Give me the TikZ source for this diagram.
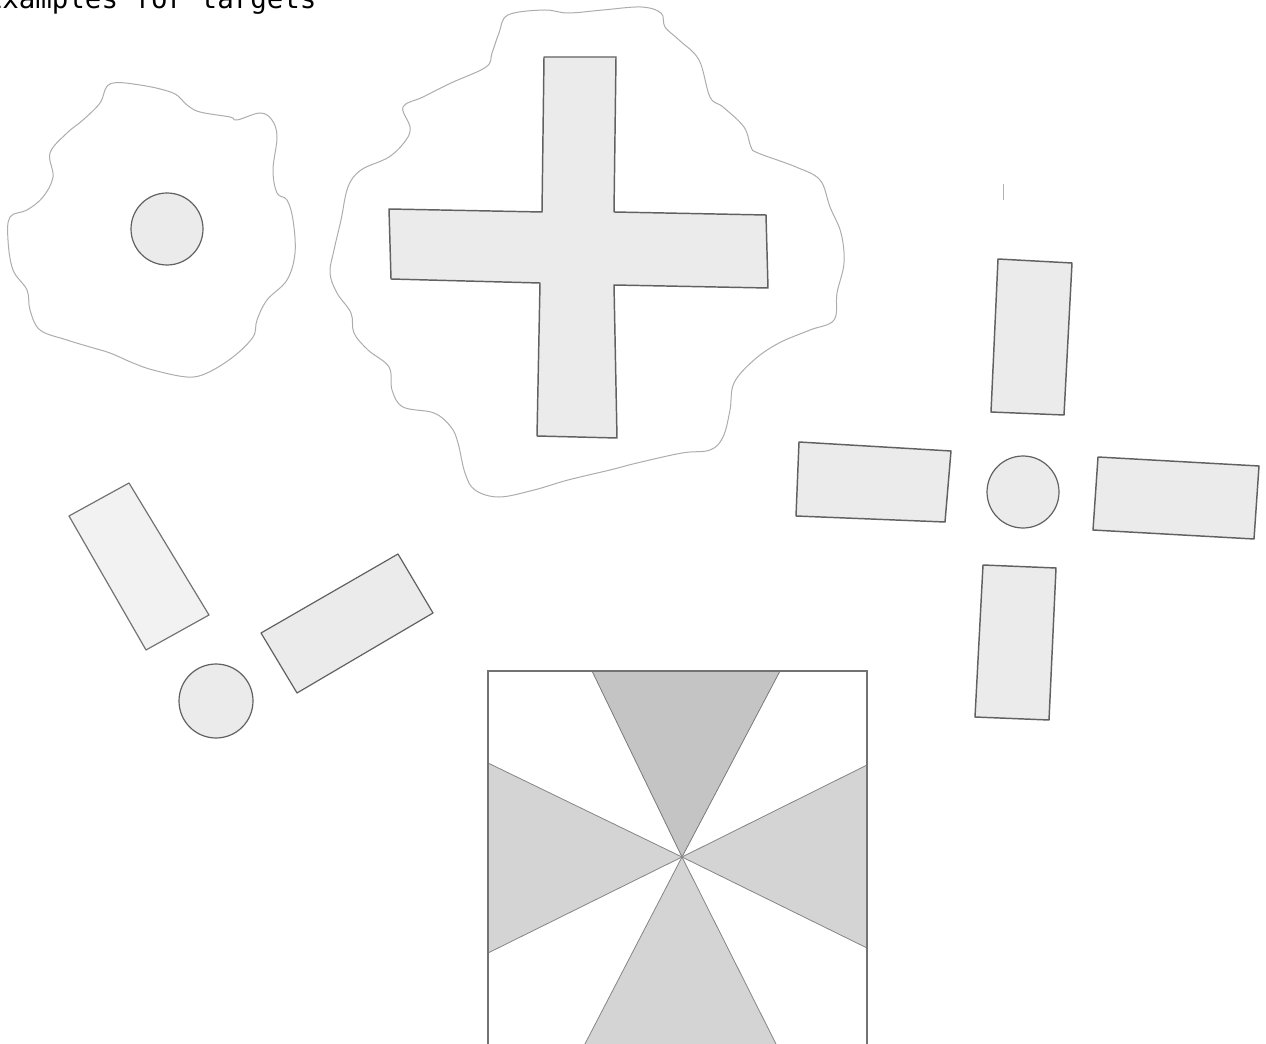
\documentclass[tikz,border=0pt]{standalone}
\usepackage{fontspec}
\usetikzlibrary{calc}
\newfontfamily\monofont{DejaVu Sans Mono}
\begin{document}
\begin{tikzpicture}[x=0.75pt,y=-0.75pt,
  outline/.style={draw=black!32, line width=0.75pt},
  solid shape/.style={draw=black!62, fill=black!8, line width=1.1pt, line join=round},
  light shape/.style={draw=black!55, fill=black!5, line width=0.9pt, line join=round},
  wedge/.style={fill=black!17, draw=black!48, line width=0.6pt, line join=round},
  darkwedge/.style={fill=black!23, draw=black!52, line width=0.6pt, line join=round},
  frame/.style={draw=black!55, line width=1pt}]
\useasboundingbox (0,0) rectangle (1266,1044);
\clip (0,0) rectangle (1266,1044);
\fill[white] (0,0) rectangle (1266,1044);

% title
\node[anchor=base west, inner sep=0pt, font=\monofont\fontsize{20.6}{22}\selectfont] (title) at (-14.5,9) {Examples for targets};

% left blob with circle
\draw[outline] plot[smooth cycle, tension=0.6] coordinates {
 (110,84) (140,85) (173,93) (187,105) (200,112) (230,117) (237,120) (260,113)
 (272,120) (277,137) (273,170) (277,193) (287,200) (293,220) (295,253) (287,280)
 (267,300) (257,320) (253,337) (233,357) (207,373) (187,377) (153,370) (133,363)
 (110,353) (90,347) (67,340) (40,330) (30,310) (27,290) (13,270) (8,240)
 (10,217) (27,210) (43,197) (53,177) (50,153) (67,133) (83,120) (100,103)};
\draw[solid shape, line width=0.9pt] (167,229) circle[radius=36];

% big blob with cross
\draw[outline] plot[smooth cycle, tension=0.6] coordinates {
 (508,15) (544,10) (568,13) (603,10) (641,7) (661,13) (665,27) (679,40)
 (699,60) (710,97) (723,107) (744,127) (751,147) (758,153) (796,167) (820,180)
 (830,207) (841,233) (844,263) (837,293) (834,320) (810,330) (779,343) (754,360)
 (734,383) (730,410) (723,437) (710,450) (682,453) (637,463) (610,470) (568,480)
 (534,490) (499,497) (475,490) (465,473) (458,443) (451,427) (434,413) (403,407)
 (392,390) (389,367) (368,350) (354,333) (351,313) (337,293) (330,273) (334,250)
 (341,220) (348,187) (361,170) (389,157) (406,140) (410,127) (403,107) (423,97)
 (451,83) (486,67) (492,53) (499,33)};
\draw[solid shape] (544,57) -- (616,57) -- (614,212) -- (766,215) -- (768,288)
 -- (614,285) -- (617,438) -- (537,436) -- (540,283) -- (391,279) -- (389,209)
 -- (542,212) -- cycle;

% right group
\draw[solid shape] (998,259) -- (1072,263) -- (1064,415) -- (991,412) -- cycle;
\draw[solid shape] (799,442) -- (951,451) -- (945,522) -- (796,516) -- cycle;
\draw[solid shape, line width=0.9pt] (1023,492) circle[radius=36];
\draw[solid shape] (1098,457) -- (1259,466) -- (1254,539) -- (1093,530) -- cycle;
\draw[solid shape] (983,565) -- (1056,568) -- (1049,720) -- (975,717) -- cycle;
\draw[black!30, line width=0.6pt] (1003,184) -- (1003,200);

% lower-left group
\draw[light shape] (69,516) -- (129,483) -- (209,615) -- (146,650) -- cycle;
\draw[solid shape, line width=0.9pt] (261,633) -- (398,554) -- (433,613) -- (297,693) -- cycle;
\draw[solid shape, line width=0.9pt] (216,701) circle[radius=37];

% bottom square with wedges
\coordinate (c) at (682,857);
\draw[darkwedge] (592,671) -- (780,671) -- (c) -- cycle;
\draw[wedge] (488,763) -- (c) -- (488,953) -- cycle;
\draw[wedge] (867,765) -- (c) -- (867,948) -- cycle;
\draw[wedge] (c) -- ($(c)!1.12!(587,1040)$) -- ($(c)!1.12!(775,1042)$) -- cycle;
\draw[frame] (488,1060) -- (488,671) -- (867,671) -- (867,1060);
\end{tikzpicture}
\end{document}
